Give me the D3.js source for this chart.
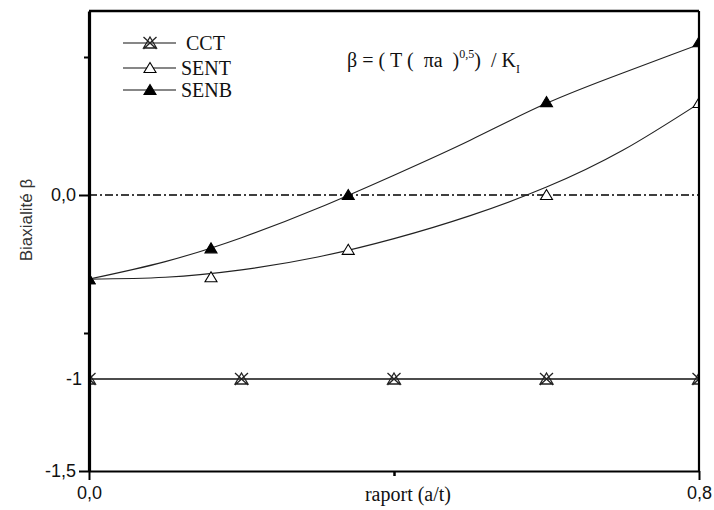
<!DOCTYPE html>
<html>
<head>
<meta charset="utf-8">
<script src="https://cdn.jsdelivr.net/npm/d3@7"></script>
<style>
  html, body { margin: 0; padding: 0; background: #fff; }
  svg { display: block; }
  .serif { font-family: "Liberation Serif", "Times New Roman", serif; }
  .sans { font-family: "Liberation Sans", Arial, sans-serif; }
</style>
</head>
<body>
<svg id="chart" width="714" height="510"></svg>
<script>
// Measured points (a/t ratio vs biaxiality)
const cctX = [0, 0.2, 0.4, 0.6, 0.8];
const cctY = [-1, -1, -1, -1, -1];

const sentX = [0, 0.16, 0.34, 0.6, 0.8];
const sentY = [-0.457, -0.447, -0.298, 0.0, 0.5];

const senbX = [0, 0.16, 0.34, 0.6, 0.8];
const senbY = [-0.457, -0.29, 0.0, 0.505, 0.83];

// Fitted curves
const fitX = [0, 0.1, 0.2, 0.3, 0.4, 0.5, 0.6, 0.7, 0.8];
const sentFit = [-0.457, -0.447, -0.407, -0.337, -0.237, -0.112, 0.043, 0.243, 0.498];
const senbFit = [-0.457, -0.362, -0.232, -0.072, 0.108, 0.298, 0.498, 0.663, 0.818];

// Axis ticks
const xTicksMajor = [0, 0.8];
const xTicksMinor = [0.4];
const yTicksMajor = [0, -1.5];
const yTicksMinor = [0.75, -0.75];
const yExtraLabels = [-1];

const legendNames = ["CCT", "SENT", "SENB"];

const svg = d3.select("#chart");
const margin = { left: 89, right: 15, top: 11, bottom: 39 };
const W = 714, H = 510;

const x = d3.scaleLinear().domain([0, 0.8]).range([margin.left, W - margin.right]);
const y = d3.scaleLinear().domain([-1.5, 1.0]).range([H - margin.bottom, margin.top]);

const fmt = v => d3.format(".1f")(v).replace(".", ",").replace("−", "-");

// clip to plot area
svg.append("defs").append("clipPath").attr("id", "plot")
  .append("rect")
  .attr("x", x(0)).attr("y", y(1.0))
  .attr("width", x(0.8) - x(0)).attr("height", y(-1.5) - y(1.0));

// marker shapes
const triPath = "M0,-5.5L6,4.5L-6,4.5Z";
const starPath = "M0,-6L6.5,5L-6.5,5Z M-6.5,-6L6.5,6 M6.5,-6L-6.5,6";

function drawMarker(g, kind, cx, cy) {
  if (kind === "CCT") {
    g.append("path").attr("d", starPath)
      .attr("transform", `translate(${cx},${cy})`)
      .attr("fill", "none").attr("stroke", "#222").attr("stroke-width", 1.3);
  } else {
    g.append("path").attr("d", triPath)
      .attr("transform", `translate(${cx},${cy})`)
      .attr("fill", kind === "SENB" ? "#000" : "#fff")
      .attr("stroke", "#000").attr("stroke-width", 1.1);
  }
}

const plot = svg.append("g").attr("clip-path", "url(#plot)");

// zero reference line (dash-dot)
plot.append("line")
  .attr("x1", x(0)).attr("x2", x(0.8))
  .attr("y1", y(0)).attr("y2", y(0))
  .attr("stroke", "#000").attr("stroke-width", 1.3)
  .attr("stroke-dasharray", "8,3,2,3");

// curves
const lineGen = d3.line().x(d => x(d[0])).y(d => y(d[1]));
const smooth = d3.line().x(d => x(d[0])).y(d => y(d[1])).curve(d3.curveNatural);

plot.append("path").datum(cctX.map((v, i) => [v, cctY[i]]))
  .attr("d", lineGen).attr("fill", "none").attr("stroke", "#111").attr("stroke-width", 1.3);
plot.append("path").datum(fitX.map((v, i) => [v, sentFit[i]]))
  .attr("d", smooth).attr("fill", "none").attr("stroke", "#222").attr("stroke-width", 1.1);
plot.append("path").datum(fitX.map((v, i) => [v, senbFit[i]]))
  .attr("d", smooth).attr("fill", "none").attr("stroke", "#222").attr("stroke-width", 1.1);

// markers
cctX.forEach((v, i) => drawMarker(plot, "CCT", x(v), y(cctY[i])));
sentX.forEach((v, i) => drawMarker(plot, "SENT", x(v), y(sentY[i])));
senbX.forEach((v, i) => drawMarker(plot, "SENB", x(v), y(senbY[i])));

// frame
const frame = svg.append("g").attr("stroke", "#000").attr("fill", "none");
frame.append("line").attr("x1", x(0)).attr("x2", x(0.8)).attr("y1", y(1.0)).attr("y2", y(1.0)).attr("stroke-width", 2.5);
frame.append("line").attr("x1", x(0.8)).attr("x2", x(0.8)).attr("y1", y(1.0)).attr("y2", y(-1.5)).attr("stroke-width", 2.2);

// axes
function styleAxis(g) {
  g.select(".domain").attr("stroke", "#000");
  g.selectAll(".tick line").attr("stroke", "#000").attr("stroke-width", 2);
  g.selectAll(".tick text").attr("fill", "#111").attr("class", "sans").style("font-size", "18px");
}

const yMaj = svg.append("g").attr("transform", `translate(${x(0)},0)`)
  .call(d3.axisLeft(y).tickValues(yTicksMajor).tickSize(10).tickSizeOuter(0).tickPadding(3).tickFormat(fmt));
styleAxis(yMaj);
yMaj.select(".domain").attr("stroke-width", 3.2);

const yMin = svg.append("g").attr("transform", `translate(${x(0)},0)`)
  .call(d3.axisLeft(y).tickValues(yTicksMinor).tickSize(5).tickSizeOuter(0).tickFormat(""));
yMin.select(".domain").remove();
yMin.selectAll(".tick line").attr("stroke", "#000").attr("stroke-width", 2);

const yExtra = svg.append("g").attr("transform", `translate(${x(0)},0)`)
  .call(d3.axisLeft(y).tickValues(yExtraLabels).tickSize(0).tickPadding(7).tickFormat(d => d3.format("d")(d).replace("−", "-")));
yExtra.select(".domain").remove();
styleAxis(yExtra);

const xMaj = svg.append("g").attr("transform", `translate(0,${y(-1.5)})`)
  .call(d3.axisBottom(x).tickValues(xTicksMajor).tickSize(9).tickSizeOuter(0).tickPadding(6).tickFormat(fmt));
styleAxis(xMaj);
xMaj.select(".domain").attr("stroke-width", 2.2);

const xMin = svg.append("g").attr("transform", `translate(0,${y(-1.5)})`)
  .call(d3.axisBottom(x).tickValues(xTicksMinor).tickSize(5).tickSizeOuter(0).tickFormat(""));
xMin.select(".domain").remove();
xMin.selectAll(".tick line").attr("stroke", "#000").attr("stroke-width", 2.5);

// axis titles
svg.append("text").attr("class", "serif")
  .attr("x", x(0.4) + 14).attr("y", 501)
  .attr("text-anchor", "middle").style("font-size", "20px").attr("fill", "#111")
  .text("raport (a/t)");

svg.append("text").attr("class", "sans")
  .attr("transform", `translate(32,220) rotate(-90)`)
  .attr("text-anchor", "middle").style("font-size", "17px").attr("fill", "#333")
  .text("Biaxialité β");

// formula
const f = svg.append("text").attr("class", "serif")
  .attr("x", 347).attr("y", 67)
  .style("font-size", "20px").style("white-space", "pre").attr("fill", "#111");
f.append("tspan").text("β = ( T (  πa  )");
f.append("tspan").attr("dy", -9).style("font-size", "12px").text("0,5");
f.append("tspan").attr("dy", 9).text(")  / K");
f.append("tspan").attr("dy", 6).style("font-size", "12px").text("I");

// legend
const leg = svg.append("g");
const legY = [43, 68, 90];
const legTextX = [186, 181, 181];
legendNames.forEach((name, i) => {
  leg.append("line").attr("x1", 123).attr("x2", 176)
    .attr("y1", legY[i]).attr("y2", legY[i])
    .attr("stroke", "#111").attr("stroke-width", 1.1);
  drawMarker(leg, name, 150, legY[i]);
  leg.append("text").attr("class", "serif")
    .attr("x", legTextX[i]).attr("y", legY[i] + 7)
    .style("font-size", "20px").attr("fill", "#111")
    .text(name);
});
</script>
</body>
</html>
